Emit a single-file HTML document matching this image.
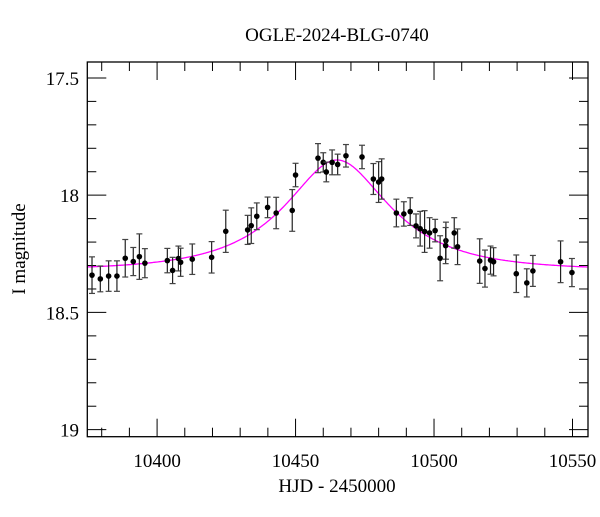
<!DOCTYPE html>
<html><head><meta charset="utf-8"><style>
body{margin:0;background:#fff;}
svg text{font-family:"Liberation Serif",serif;fill:#000;}
</style></head><body>
<svg id="chart" width="600" height="512" viewBox="0 0 600 512" xmlns="http://www.w3.org/2000/svg">
<text x="337" y="41" font-size="19" text-anchor="middle">OGLE-2024-BLG-0740</text>
<text x="337" y="492" font-size="19" text-anchor="middle">HJD - 2450000</text>
<text x="0" y="0" font-size="19" text-anchor="middle" transform="translate(25,249) rotate(-90)">I magnitude</text>
<g id="ticks"></g>
<g id="model"></g>
<g id="points"></g>
<rect x="87.3" y="62" width="500.7" height="374.7" fill="none" stroke="#000" stroke-width="1.3"/>
</svg>
<script>
const days=[10376.5,10379.5,10382.5,10385.5,10388.5,10391.4,10393.6,10395.6,10403.7,10405.6,10407.7,10408.5,10412.7,10419.7,10424.8,10432.7,10434.0,10436.0,10439.9,10443.0,10448.8,10450.0,10458.1,10460.0,10461.1,10463.2,10465.2,10468.2,10474.0,10478.1,10480.0,10481.1,10486.4,10489.1,10491.4,10493.5,10495.0,10496.6,10498.4,10500.4,10502.2,10504.3,10504.2,10507.3,10508.5,10516.5,10518.4,10520.4,10521.5,10529.7,10533.5,10535.7,10545.7,10549.8];
const mags=[18.341,18.357,18.345,18.345,18.269,18.283,18.262,18.29,18.279,18.321,18.270,18.286,18.273,18.265,18.154,18.148,18.130,18.09,18.052,18.076,18.065,17.914,17.842,17.86,17.901,17.86,17.869,17.832,17.837,17.931,17.944,17.931,18.076,18.08,18.07,18.131,18.143,18.155,18.161,18.151,18.269,18.194,18.215,18.161,18.22,18.281,18.313,18.277,18.284,18.335,18.374,18.323,18.284,18.33];
const errs=[0.078,0.055,0.065,0.065,0.08,0.06,0.097,0.062,0.052,0.056,0.053,0.06,0.065,0.067,0.09,0.062,0.076,0.057,0.044,0.067,0.089,0.05,0.062,0.041,0.042,0.053,0.044,0.048,0.05,0.066,0.087,0.086,0.059,0.052,0.059,0.051,0.074,0.089,0.065,0.048,0.096,0.079,0.077,0.065,0.076,0.095,0.079,0.06,0.06,0.08,0.06,0.066,0.089,0.06];
const xTickLabels=[10400,10450,10500,10550];
const yTickLabels=[17.5,18,18.5,19];
const modelParams=[10465,35.7,0.5,0.458,18.32]; // t0, tE, u0, fs, baseline mag

const X0=87.3,X1=588,Y0=62,Y1=436.7;
const dMin=10374.8,dMax=10555.6,mTop=17.432,mBot=19.03;
const sx=d=>X0+(d-dMin)/(dMax-dMin)*(X1-X0);
const sy=m=>Y0+(m-mTop)/(mBot-mTop)*(Y1-Y0);
const NS='http://www.w3.org/2000/svg';
function mk(tag,attrs,parent){const e=document.createElementNS(NS,tag);for(const k in attrs)e.setAttribute(k,attrs[k]);parent.appendChild(e);return e;}
const tg=document.getElementById('ticks');
for(let d=10380;d<=10550;d+=10){
  const maj=d%50===0, L=maj?18:9, x=sx(d);
  const t1=mk('line',{x1:x,x2:x,y1:Y1,y2:Y1-L,stroke:'#000','stroke-width':1},tg);
  
  
  const t2=mk('line',{x1:x,x2:x,y1:Y0,y2:Y0+L,stroke:'#000','stroke-width':1},tg);
  
  
}
xTickLabels.forEach(v=>{
  const t=mk('text',{x:sx(v),y:467,'font-size':19,'text-anchor':'middle'},tg);
  t.textContent=v;
  
  
});
for(let i=0;i<=15;i++){
  const m=17.5+i*0.1, maj=i%5===0, L=maj?19:9, y=sy(m);
  const t1=mk('line',{x1:X0,x2:X0+L,y1:y,y2:y,stroke:'#000','stroke-width':1},tg);
  
  
  const t2=mk('line',{x1:X1,x2:X1-L,y1:y,y2:y,stroke:'#000','stroke-width':1},tg);
  
  
}
yTickLabels.forEach(v=>{
  const t=mk('text',{x:79,y:sy(v)+7,'font-size':19,'text-anchor':'end'},tg);
  t.textContent=v;
  
  
});
// model curve
const [t0,tE,u0,fs,m0]=modelParams;
let dpath='';
for(let x=X0;x<=X1;x+=1){
  const d=dMin+(x-X0)/(X1-X0)*(dMax-dMin);
  const tau=(d-t0)/tE, u=Math.sqrt(u0*u0+tau*tau);
  const A=(u*u+2)/(u*Math.sqrt(u*u+4));
  const m=m0-2.5*Math.log10(fs*A+1-fs);
  dpath+=(dpath?'L':'M')+x.toFixed(1)+','+sy(m).toFixed(1);
}
const mp=mk('path',{d:dpath,fill:'none',stroke:'#ff00ff','stroke-width':1.3},document.getElementById('model'));


// data points
const pg=document.getElementById('points');
days.forEach((d,i)=>{
  const x=sx(d),y=sy(mags[i]),ya=sy(mags[i]-errs[i]),yb=sy(mags[i]+errs[i]);
  const g=mk('g',{},pg);
  
  
  mk('line',{x1:x,x2:x,y1:ya,y2:yb,stroke:'#222','stroke-width':1.2},g);
  mk('line',{x1:x-3,x2:x+3,y1:ya,y2:ya,stroke:'#444','stroke-width':1.2},g);
  mk('line',{x1:x-3,x2:x+3,y1:yb,y2:yb,stroke:'#444','stroke-width':1.2},g);
  mk('circle',{cx:x,cy:y,r:2.8,fill:'#000'},g);
});
</script>
</body></html>
